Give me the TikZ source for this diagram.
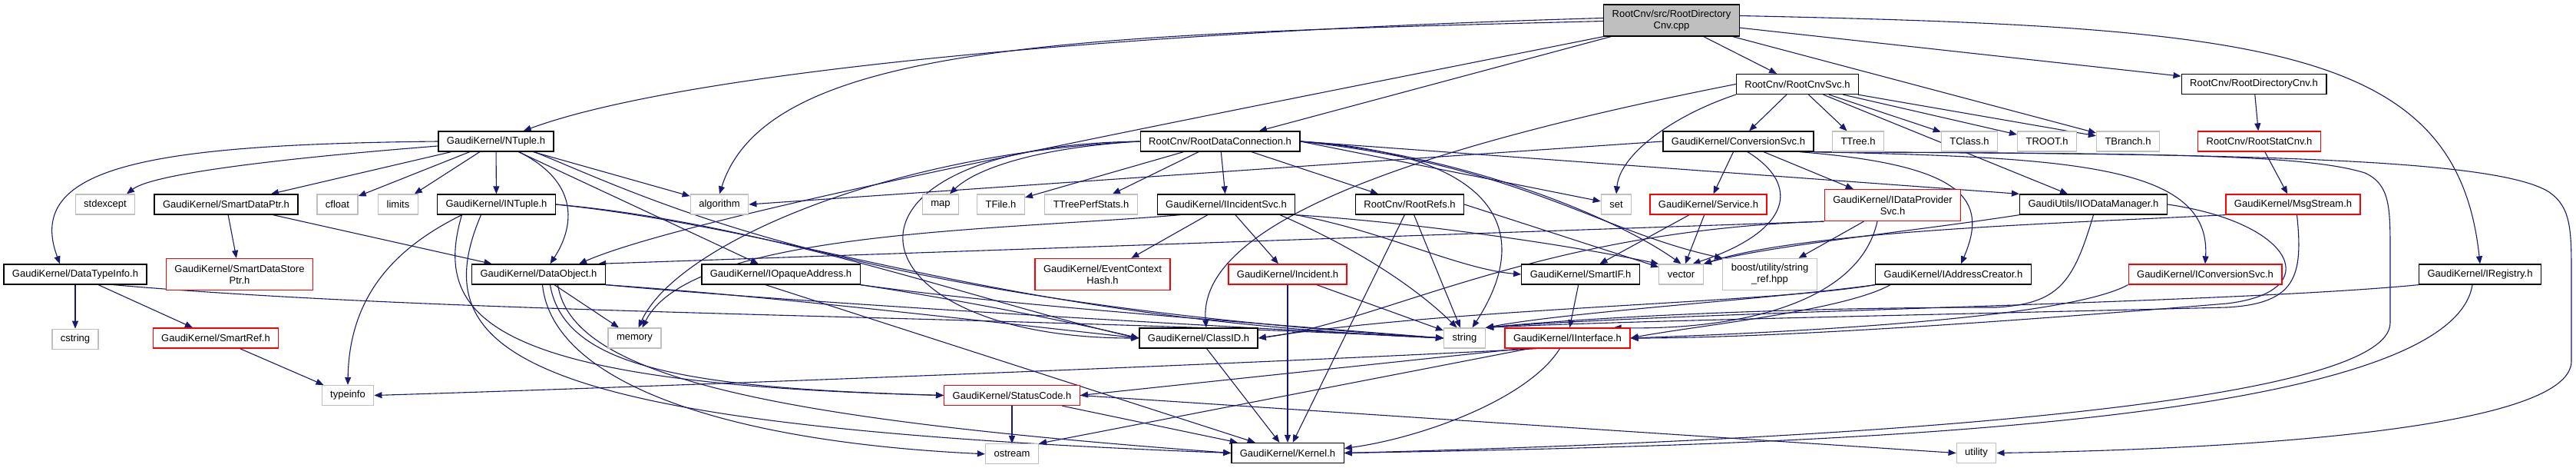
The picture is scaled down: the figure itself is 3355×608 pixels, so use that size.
\documentclass[tikz,border=0pt]{standalone}
\usepackage{fontspec}
\setmainfont{Liberation Sans}
\usetikzlibrary{arrows.meta,positioning,backgrounds}
\definecolor{edgeblue}{HTML}{191970}
\definecolor{boxgray}{HTML}{BFBFBF}

\begin{document}
\begin{tikzpicture}[
    x=1pt, y=1pt,
    font=\fontsize{13}{15}\selectfont,
    file/.style={rectangle, draw=black, line width=1.3pt, fill=white, minimum height=26pt, inner xsep=11pt, inner ysep=2pt, align=center},
    sysfile/.style={file, draw=boxgray},
    trunc/.style={file, draw=red},
    mainfile/.style={file, fill=boxgray},
    twoline/.style={minimum height=41pt},
    dep/.style={-{Triangle[length=10pt, width=8pt]}, line width=1.1pt, color=edgeblue}
]
\useasboundingbox (0,0) rectangle (3355,-608);

% Top row - source file
\node[mainfile, twoline] (root) at (2177,-26.5) {RootCnv/src/RootDirectory\\Cnv.cpp};

% Row 1
\node[file] (cnvsvc) at (2341,-109.5) {RootCnv/RootCnvSvc.h};
\node[file] (dircnv) at (2935.5,-109.5) {RootCnv/RootDirectoryCnv.h};

% Row 2
\node[file] (ntuple) at (646,-184) {GaudiKernel/NTuple.h};
\node[file] (dataconn) at (1589,-184) {RootCnv/RootDataConnection.h};
\node[file] (convsvc) at (2264,-184) {GaudiKernel/ConversionSvc.h};
\node[sysfile] (ttree) at (2420,-184) {TTree.h};
\node[sysfile] (tclass) at (2565,-184) {TClass.h};
\node[sysfile] (troot) at (2666,-184) {TROOT.h};
\node[sysfile] (tbranch) at (2771.5,-184) {TBranch.h};
\node[trunc] (statcnv) at (2942.5,-184) {RootCnv/RootStatCnv.h};

% Row 3
\node[sysfile] (stdexcept) at (137,-266) {stdexcept};
\node[file] (smartdataptr) at (294.5,-266) {GaudiKernel/SmartDataPtr.h};
\node[sysfile] (cfloat) at (439.5,-266) {cfloat};
\node[sysfile] (limits) at (518.5,-266) {limits};
\node[file] (intuple) at (646.5,-266) {GaudiKernel/INTuple.h};
\node[sysfile] (algorithm) at (937,-266) {algorithm};
\node[sysfile] (map) at (1225,-266) {map};
\node[sysfile] (tfile) at (1303.5,-266) {TFile.h};
\node[sysfile] (ttreeperf) at (1421,-266) {TTreePerfStats.h};
\node[file] (incsvc) at (1597,-266) {GaudiKernel/IIncidentSvc.h};
\node[file] (rootrefs) at (1836,-266) {RootCnv/RootRefs.h};
\node[sysfile] (set) at (2105,-266) {set};
\node[trunc] (service) at (2225,-266) {GaudiKernel/Service.h};
\node[trunc, twoline] (idataprov) at (2465,-267) {GaudiKernel/IDataProvider\\Svc.h};
\node[file] (iodatamgr) at (2726.5,-266) {GaudiUtils/IIODataManager.h};
\node[trunc] (msgstream) at (2986.5,-266) {GaudiKernel/MsgStream.h};

% Row 4
\node[file] (datatypeinfo) at (98,-357) {GaudiKernel/DataTypeInfo.h};
\node[trunc, twoline] (smartstore) at (312,-357) {GaudiKernel/SmartDataStore\\Ptr.h};
\node[file] (dataobject) at (701.5,-357) {GaudiKernel/DataObject.h};
\node[file] (opaque) at (1017,-357) {GaudiKernel/IOpaqueAddress.h};
\node[trunc, twoline] (evtctx) at (1436,-357) {GaudiKernel/EventContext\\Hash.h};
\node[trunc] (incident) at (1677,-357) {GaudiKernel/Incident.h};
\node[file] (smartif) at (2058.5,-357) {GaudiKernel/SmartIF.h};
\node[sysfile] (vector) at (2189.5,-357) {vector};
\node[sysfile, twoline] (boost) at (2305,-357) {boost/utility/string\\\_ref.hpp};
\node[file] (addrcreator) at (2544,-357) {GaudiKernel/IAddressCreator.h};
\node[trunc] (iconvsvc) at (2872,-357) {GaudiKernel/IConversionSvc.h};
\node[file] (registry) at (3230,-357) {GaudiKernel/IRegistry.h};

% Row 5
\node[sysfile, below=57pt of datatypeinfo] (cstring) {cstring};
\node[trunc] (smartref) at (281,-440) {GaudiKernel/SmartRef.h};
\node[sysfile] (memory) at (826.5,-440) {memory};
\node[file] (classid) at (1561,-440) {GaudiKernel/ClassID.h};
\node[sysfile] (string) at (1907.5,-440) {string};
\node[trunc] (iinterface) at (2041.5,-440) {GaudiKernel/IInterface.h};

% Bottom rows
\node[sysfile] (typeinfo) at (453,-514.5) {typeinfo};
\node[trunc] (statuscode) at (1318,-514.5) {GaudiKernel/StatusCode.h};
\node[sysfile, below=49pt of statuscode] (ostream) {ostream};
\node[file] (kernel) at (1677,-589.5) {GaudiKernel/Kernel.h};
\node[sysfile] (utility) at (2574,-589.5) {utility};

\begin{scope}[on background layer]
\fill[white] (0,0) rectangle (3355,-608);

% Includes of the source file
\draw[dep] ([yshift=3pt]root.west) .. controls (1500,-40) and (900,-90) .. ([xshift=-40pt]ntuple.north east);
\draw[dep] ([yshift=-1pt]root.west) .. controls (1400,-45) and (1000,-55) .. (algorithm.north);
\draw[dep] (root) -- (dataconn);
\draw[dep] (root.south west) .. controls (1500,-165) and (900,-280) .. ([xshift=-35pt]dataobject.north east);
\draw[dep] (root) -- (cnvsvc);
\draw[dep] (root) -- (tbranch);
\draw[dep] (root) -- (dircnv);
\draw[dep] ([yshift=6pt]root.east) .. controls (2950,-35) and (3200,-60) .. (registry.north);

% RootCnvSvc.h
\draw[dep] (cnvsvc) -- (convsvc);
\draw[dep] (cnvsvc) -- (ttree);
\draw[dep] (cnvsvc) -- (tclass);
\draw[dep] (cnvsvc) -- (troot);
\draw[dep] (cnvsvc) -- (tbranch);
\draw[dep] (cnvsvc) -- (iodatamgr);
\draw[dep] (cnvsvc.south west) .. controls (2180,-150) and (2110,-200) .. (set.north);
\draw[dep] (cnvsvc.west) .. controls (1800,-200) and (1560,-300) .. ([xshift=10pt]classid.north);
\draw[dep] (dircnv) -- (statcnv);
\draw[dep] (statcnv) -- (msgstream);

% NTuple.h
\draw[dep] (ntuple.west) .. controls (200,-188) and (30,-215) .. ([xshift=-20pt]datatypeinfo.north);
\draw[dep] ([yshift=-6pt]ntuple.west) .. controls (380,-205) and (200,-225) .. ([xshift=28pt]stdexcept.north);
\draw[dep] (ntuple) -- (smartdataptr);
\draw[dep] (ntuple) -- (cfloat);
\draw[dep] (ntuple) -- (limits);
\draw[dep] (ntuple) -- (intuple);
\draw[dep] ([xshift=30pt]ntuple.south) .. controls (760,-240) and (745,-300) .. ([xshift=15pt]dataobject.north);
\draw[dep] (ntuple) -- (opaque);
\draw[dep] (ntuple) -- (algorithm);
\draw[dep] ([xshift=50pt]ntuple.south) .. controls (850,-260) and (1100,-390) .. (string.west);

% RootDataConnection.h
\draw[dep] (dataconn.west) .. controls (1350,-192) and (1270,-220) .. ([xshift=12pt]map.north);
\draw[dep] (dataconn) -- (tfile);
\draw[dep] (dataconn) -- (ttreeperf);
\draw[dep] (dataconn) -- (incsvc);
\draw[dep] (dataconn) -- (rootrefs);
\draw[dep] (dataconn.east) -- (iodatamgr.north west);
\draw[dep] (dataconn.east) -- (set);
\draw[dep] (dataconn.east) .. controls (1900,-200) and (2100,-280) .. (vector.north);
\draw[dep] (dataconn.east) .. controls (1980,-215) and (2080,-300) .. (boost.north west);
\draw[dep] (dataconn.east) .. controls (1950,-200) and (2000,-300) .. ([xshift=10pt]string.north);
\draw[dep] (dataconn.west) .. controls (1150,-200) and (880,-320) .. ([xshift=5pt]memory.north);
\draw[dep] (dataconn.west) .. controls (1050,-190) and (1100,-440) .. (classid.west);

% ConversionSvc.h
\draw[dep] (convsvc.west) -- (algorithm.east);
\draw[dep] (convsvc) -- (service);
\draw[dep] ([xshift=12pt]convsvc.south) .. controls (2345,-240) and (2335,-300) .. ([xshift=15pt]vector.north);
\draw[dep] (convsvc) -- (idataprov);
\draw[dep] ([xshift=80pt]convsvc.south) .. controls (2560,-215) and (2590,-260) .. ([xshift=10pt]addrcreator.north);
\draw[dep] (convsvc.south east) .. controls (2700,-205) and (2880,-215) .. (iconvsvc.north);
\draw[dep] (convsvc.south east) .. controls (2800,-200) and (3000,-200) .. (3080,-225) .. controls (3113,-240) and (3113,-270) .. (3113,-330) -- (3113,-420) .. controls (3113,-520) and (2500,-570) .. (kernel.east);
\draw[dep] (convsvc.south east) .. controls (2900,-200) and (3250,-205) .. (3320,-250) .. controls (3349,-270) and (3349,-300) .. (3349,-360) -- (3349,-470) .. controls (3349,-560) and (2900,-585) .. (utility.east);

% SmartDataPtr.h, INTuple.h, DataTypeInfo.h
\draw[dep] (smartdataptr) -- (smartstore);
\draw[dep] (smartdataptr) -- (dataobject);
\draw[dep] ([xshift=-45pt]intuple.south) .. controls (520,-320) and (455,-380) .. (typeinfo.north);
\draw[dep] ([xshift=-45pt]intuple.south) .. controls (560,-420) and (650,-500) .. (statuscode.west);
\draw[dep] ([xshift=-20pt]intuple.south) .. controls (545,-470) and (700,-555) .. (kernel.west);
\draw[dep] (intuple.east) .. controls (1000,-290) and (1300,-400) .. (classid.west);
\draw[dep] (intuple.east) .. controls (1050,-300) and (1300,-415) .. (string.west);
\draw[dep] (datatypeinfo) -- (cstring);
\draw[dep] (datatypeinfo) -- (smartref);
\draw[dep] ([xshift=50pt]datatypeinfo.south) .. controls (600,-410) and (1300,-410) .. (string.west);
\draw[dep] (smartref) -- (typeinfo);

% DataObject.h, IOpaqueAddress.h
\draw[dep] (dataobject) -- (memory);
\draw[dep] ([xshift=15pt]dataobject.south) .. controls (735,-480) and (900,-505) .. (statuscode.west);
\draw[dep] ([xshift=25pt]dataobject.south) .. controls (745,-490) and (1000,-545) .. (kernel.west);
\draw[dep] ([xshift=5pt]dataobject.south) .. controls (720,-500) and (950,-575) .. (ostream.west);
\draw[dep] (dataobject.south east) .. controls (1000,-385) and (1300,-420) .. (classid.west);
\draw[dep] (dataobject.south east) .. controls (1000,-390) and (1400,-415) .. (string.west);
\draw[dep] (opaque.south east) .. controls (1250,-390) and (1400,-420) .. (classid.west);
\draw[dep] (opaque.south east) .. controls (1300,-395) and (1500,-410) .. (string.west);
\draw[dep] ([xshift=-20pt]opaque.south) -- (kernel);

% IIncidentSvc.h, RootRefs.h, Service.h
\draw[dep] (incsvc) -- (evtctx);
\draw[dep] (incsvc) -- (incident);
\draw[dep] ([xshift=70pt]incsvc.south) .. controls (1760,-320) and (1840,-370) .. ([xshift=-10pt]string.north);
\draw[dep] (incsvc.south east) .. controls (1850,-290) and (2050,-320) .. (vector.north west);
\draw[dep] (incsvc.south east) .. controls (1800,-300) and (1900,-350) .. (smartif.west);
\draw[dep] ([xshift=-60pt]incsvc.south) .. controls (1300,-300) and (900,-300) .. ([xshift=10pt]memory.north);
\draw[dep] (rootrefs) -- (kernel);
\draw[dep] (rootrefs) -- (string);
\draw[dep] (rootrefs.east) -- (vector);
\draw[dep] (service) -- (smartif);
\draw[dep] (service) -- (vector);
\draw[dep] (smartif) -- (iinterface);

% IDataProviderSvc.h, IIODataManager.h, MsgStream.h
\draw[dep] (idataprov.south west) -- ([xshift=-10pt]dataobject.north east);
\draw[dep] (idataprov) -- (boost);
\draw[dep] ([xshift=-20pt]idataprov.south) .. controls (2420,-400) and (2250,-430) .. ([xshift=60pt]iinterface.north);
\draw[dep] (idataprov.south west) .. controls (2000,-300) and (1800,-420) .. (classid.east);
\draw[dep] (iodatamgr.south west) .. controls (2500,-300) and (2300,-320) .. (vector.north east);
\draw[dep] (iodatamgr.south) .. controls (2700,-370) and (2680,-395) .. (2600,-400) .. controls (2300,-400) and (2050,-415) .. (string.north east);
\draw[dep] (iodatamgr.east) .. controls (2990,-290) and (3030,-380) .. (2900,-395) .. controls (2600,-420) and (2300,-440) .. (iinterface.east);
\draw[dep] (msgstream.south west) .. controls (2700,-290) and (2350,-300) .. (vector.north east);
\draw[dep] ([xshift=5pt]msgstream.south) .. controls (3000,-360) and (2990,-395) .. (2900,-400) .. controls (2500,-410) and (2100,-418) .. (string.north east);

% IAddressCreator.h, IConversionSvc.h, IRegistry.h
\draw[dep] (addrcreator.south west) .. controls (2300,-395) and (1900,-400) .. (classid.east);
\draw[dep] (addrcreator.south west) .. controls (2300,-390) and (2050,-405) .. (string.north east);
\draw[dep] ([xshift=20pt]addrcreator.south west) .. controls (2400,-405) and (2200,-425) .. (iinterface.east);
\draw[dep] (iconvsvc.south west) .. controls (2700,-410) and (2400,-430) .. (iinterface.east);
\draw[dep] (registry.south west) .. controls (2900,-395) and (2200,-405) .. (string.north east);
\draw[dep] ([xshift=-10pt]registry.south) .. controls (3190,-560) and (2300,-580) .. (kernel.east);

% Lower level headers
\draw[dep] (incident) -- (kernel);
\draw[dep] (incident) -- (string);
\draw[dep] ([xshift=-40pt]iinterface.south) .. controls (1600,-475) and (800,-505) .. (typeinfo.east);
\draw[dep] ([xshift=-60pt]iinterface.south) -- (statuscode.east);
\draw[dep] ([xshift=-10pt]iinterface.south) .. controls (1990,-520) and (1850,-570) .. ([yshift=6pt]kernel.east);
\draw[dep] ([xshift=-50pt]iinterface.south) -- (ostream.north east);
\draw[dep] (classid) -- (kernel);
\draw[dep] (statuscode) -- (ostream);
\draw[dep] (statuscode) -- (kernel);
\draw[dep] (statuscode.east) -- (utility.west);
\end{scope}

\end{tikzpicture}
\end{document}
